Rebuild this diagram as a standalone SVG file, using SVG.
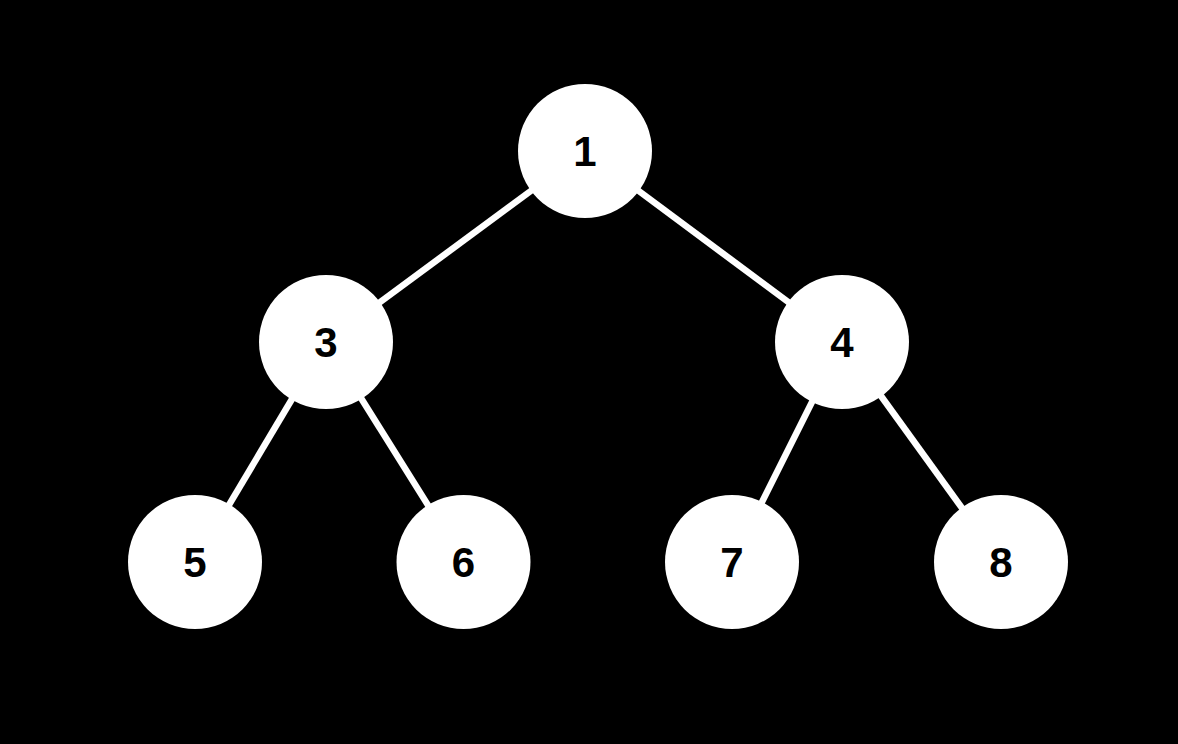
<svg xmlns="http://www.w3.org/2000/svg" width="1178" height="744" viewBox="0 0 1178 744">
<style>
.edge{stroke:#fff;stroke-width:6.5;fill:none}
.node circle{fill:#fff}
.node text{font-family:"Liberation Sans",Arial,sans-serif;font-weight:bold;font-size:42px;fill:#000;text-anchor:middle}
</style>
<rect width="1178" height="744" fill="#000"/>
<g id="connectors">
<line class="edge" x1="585" y1="151" x2="326" y2="342"/>
<line class="edge" x1="585" y1="151" x2="842" y2="342"/>
<line class="edge" x1="326" y1="342" x2="195" y2="562"/>
<line class="edge" x1="326" y1="342" x2="463.5" y2="562"/>
<line class="edge" x1="842" y1="342" x2="732" y2="562"/>
<line class="edge" x1="842" y1="342" x2="1001" y2="562"/>
</g>
<g id="node1" class="node"><circle cx="585" cy="151" r="67"/><text x="585" y="166">1</text></g>
<g id="node3" class="node"><circle cx="326" cy="342" r="67"/><text x="326" y="357">3</text></g>
<g id="node4" class="node"><circle cx="842" cy="342" r="67"/><text x="842" y="357">4</text></g>
<g id="node5" class="node"><circle cx="195" cy="562" r="67"/><text x="195" y="577">5</text></g>
<g id="node6" class="node"><circle cx="463.5" cy="562" r="67"/><text x="463.5" y="577">6</text></g>
<g id="node7" class="node"><circle cx="732" cy="562" r="67"/><text x="732" y="577">7</text></g>
<g id="node8" class="node"><circle cx="1001" cy="562" r="67"/><text x="1001" y="577">8</text></g>
</svg>
